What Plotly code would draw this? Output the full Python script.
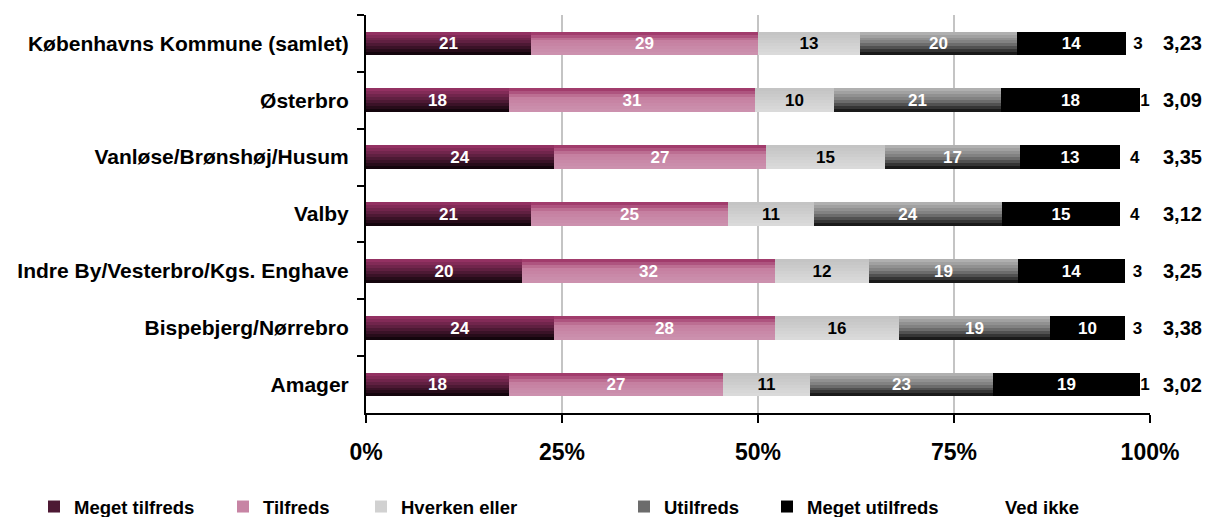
import plotly.graph_objects as go

# ---------------- data ----------------
categories = ["Københavns Kommune (samlet)", "Østerbro", "Vanløse/Brønshøj/Husum", "Valby",
              "Indre By/Vesterbro/Kgs. Enghave", "Bispebjerg/Nørrebro", "Amager"]
meget_tilfreds = [21.0, 18.2, 24.0, 21.1, 19.9, 24.0, 18.2]
tilfreds = [29.0, 31.4, 27.0, 25.1, 32.3, 28.2, 27.3]
hverken_eller = [13.0, 10.1, 15.2, 11.0, 12.0, 15.8, 11.1]
utilfreds = [20.0, 21.3, 17.2, 23.9, 19.0, 19.2, 23.4]
meget_utilfreds = [14.0, 17.7, 12.8, 15.1, 13.6, 9.6, 18.7]
ved_ikke = [3.0, 1.3, 3.8, 3.8, 3.2, 3.2, 1.3]
gennemsnit = ["3,23", "3,09", "3,35", "3,12", "3,25", "3,38", "3,02"]
series_names = ["Meget tilfreds", "Tilfreds", "Hverken eller", "Utilfreds", "Meget utilfreds", "Ved ikke"]
x_tickvals = [0, 25, 50, 75, 100]
x_ticktext = ["0%", "25%", "50%", "75%", "100%"]

# ---------------- styles ----------------
FONT = "Liberation Sans, Arial, sans-serif"
BAR_W = 0.416
N_STRIPS = 8
# vertical gradient stops (top -> bottom)
grad = [
    [(0.0, "#9c3467"), (0.45, "#5e1f40"), (1.0, "#0a0206")],
    [(0.0, "#9a2f62"), (0.4, "#c57fa0"), (1.0, "#cd93b0")],
    [(0.0, "#c2c2c2"), (1.0, "#dcdcdc")],
    [(0.0, "#b8b8b8"), (0.5, "#7a7a7a"), (1.0, "#0c0c0c")],
    [(0.0, "#000000"), (1.0, "#000000")],
    None,
]
text_colors = ["white", "white", "black", "white", "white", "black"]
legend_text_px = [74, 263, 401, 664, 807, 1005]


def hex_rgb(h):
    h = h.lstrip("#")
    return tuple(int(h[i:i + 2], 16) for i in (0, 2, 4))


def interp(stops, t):
    for (t0, c0), (t1, c1) in zip(stops[:-1], stops[1:]):
        if t0 <= t <= t1:
            f = 0 if t1 == t0 else (t - t0) / (t1 - t0)
            a, b = hex_rgb(c0), hex_rgb(c1)
            return "rgb(%d,%d,%d)" % tuple(round(a[k] + (b[k] - a[k]) * f) for k in range(3))
    return stops[-1][1]


all_series = [meget_tilfreds, tilfreds, hverken_eller, utilfreds, meget_utilfreds, ved_ikke]

fig = go.Figure()
base = [0.0] * len(categories)
for k, (name, vals) in enumerate(zip(series_names, all_series)):
    leg = "legend" if k == 0 else f"legend{k + 1}"
    if grad[k] is not None:
        for i in range(N_STRIPS):
            t = (i + 0.5) / N_STRIPS
            fig.add_trace(go.Bar(
                y=categories, x=vals, base=base, orientation="h",
                width=BAR_W / N_STRIPS, offset=-BAR_W / 2 + i * BAR_W / N_STRIPS,
                marker=dict(color=interp(grad[k], t), line=dict(width=0)),
                name=name, legend=leg, showlegend=(i == N_STRIPS // 2),
                hoverinfo="skip",
            ))
    # text carrier
    fig.add_trace(go.Bar(
        y=categories, x=vals, base=base, orientation="h",
        width=BAR_W, offset=-BAR_W / 2,
        marker=dict(color="rgba(0,0,0,0)", line=dict(width=0)),
        texttemplate="%{x:.0f}", textposition="inside", insidetextanchor="middle",
        textangle=0, constraintext="none", cliponaxis=False,
        insidetextfont=dict(family=FONT, size=17, color=text_colors[k], weight="bold"),
        name=name, legend=leg, showlegend=(grad[k] is None),
        hoverinfo="skip",
    ))
    base = [b + v for b, v in zip(base, vals)]

# mean values on the right
for cat, m in zip(categories, gennemsnit):
    fig.add_annotation(x=1.042, xref="paper", y=cat, yref="y", text=m, showarrow=False,
                       xanchor="center", font=dict(family=FONT, size=20, color="black", weight="bold"))

layout_legends = {}
for k, name in enumerate(series_names):
    leg = "legend" if k == 0 else f"legend{k + 1}"
    layout_legends[leg] = dict(
        xref="container", yref="container",
        x=(legend_text_px[k] - 40) / 1207, y=1 - 507 / 517,
        xanchor="left", yanchor="middle", orientation="h",
        bgcolor="rgba(0,0,0,0)", borderwidth=0,
        font=dict(family=FONT, size=18.5, color="black", weight="bold"),
        itemwidth=30,
    )

fig.update_layout(
    width=1207, height=517,
    margin=dict(l=366, r=57, t=15, b=104),
    paper_bgcolor="white", plot_bgcolor="white",
    barmode="overlay", bargap=0,
    xaxis=dict(range=[0, 100], tickvals=x_tickvals, ticktext=x_ticktext,
               showgrid=True, gridcolor="#c4c4c4", gridwidth=2, zeroline=False,
               showline=True, linecolor="black", linewidth=2,
               ticks="outside", ticklen=8, tickwidth=2, tickcolor="black",
               ticklabelstandoff=9,
               tickfont=dict(family=FONT, size=23, color="black", weight="bold"),
               automargin=False, fixedrange=True),
    yaxis=dict(type="category", categoryorder="array", categoryarray=categories,
               autorange="reversed", showgrid=False, zeroline=False,
               showline=True, linecolor="black", linewidth=2,
               ticks="outside", tickson="boundaries", ticklen=7, tickwidth=2, tickcolor="black",
               ticklabelstandoff=11,
               tickfont=dict(family=FONT, size=21, color="black", weight="bold"),
               automargin=False, fixedrange=True),
    **layout_legends,
)

fig.write_html("out.html", config={"displayModeBar": False},
               post_script="document.body.style.margin='0';document.body.style.overflow='hidden';")
